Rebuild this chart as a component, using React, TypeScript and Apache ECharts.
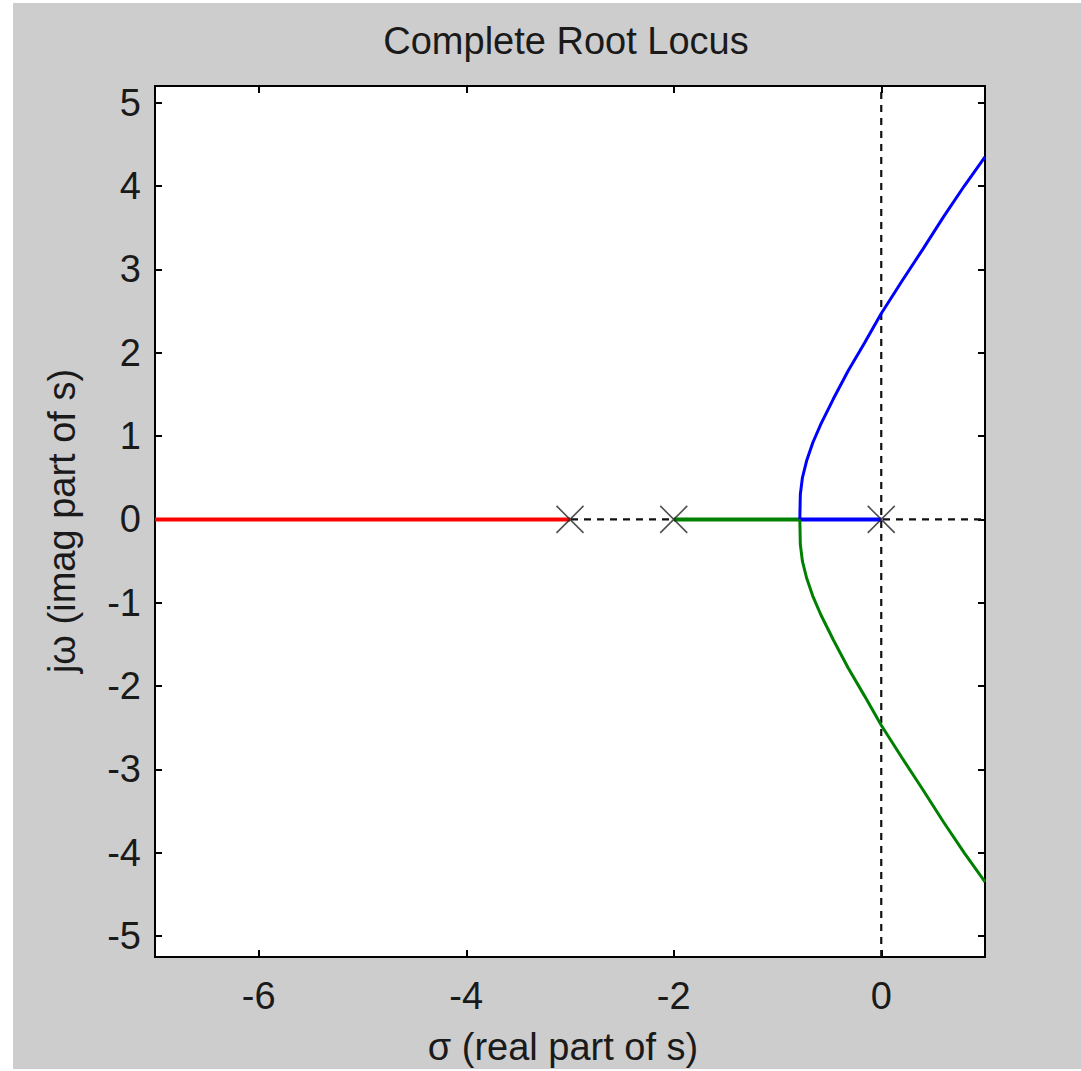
import React, { useEffect, useRef } from "react";
import * as echarts from "echarts";

// ---- data ----
const xTicks = [-6, -4, -2, 0];
const yTicks = [-5, -4, -3, -2, -1, 0, 1, 2, 3, 4, 5];
const xRange = [-7, 1];
const yRange = [-5.25, 5.2];

const poles = [[-3, 0], [-2, 0], [0, 0]];
const realAxisGuide = [[-7, 0], [1, 0]];
const imagAxisGuide = [[0, -5.25], [0, 5.2]];

const redBranch = [[-7, 0], [-3, 0]];
const greenReal = [[-2, 0], [-0.785, 0]];
const blueReal = [[-0.785, 0], [0, 0]];

const blueUpper = [
  [-0.785, 0], [-0.78, 0.3], [-0.76, 0.5], [-0.72, 0.7], [-0.66, 0.92],
  [-0.58, 1.15], [-0.46, 1.45], [-0.32, 1.78], [-0.16, 2.12], [0, 2.47],
  [0.2, 2.86], [0.4, 3.24], [0.6, 3.63], [0.8, 4.0], [1.0, 4.35],
];
const greenLower = [
  [-0.785, 0], [-0.78, -0.3], [-0.76, -0.5], [-0.72, -0.7], [-0.66, -0.92],
  [-0.58, -1.15], [-0.46, -1.45], [-0.32, -1.78], [-0.16, -2.12], [0, -2.47],
  [0.2, -2.86], [0.4, -3.24], [0.6, -3.63], [0.8, -4.0], [1.0, -4.35],
];

const titleText = "Complete Root Locus";
const xName = "σ (real part of s)";
const yName = "jω (imag part of s)";

const FONT = "'Liberation Sans', Arial, Helvetica, sans-serif";
const TXT = "#1a1a1a";

export default function App() {
  const ref = useRef<HTMLDivElement>(null);
  useEffect(() => {
    if (!ref.current) return;
    const chart = echarts.init(ref.current, null, { renderer: "svg" });
    const axisCommon = (type: "x" | "y", show: boolean) => ({
      type: "value",
      min: type === "x" ? xRange[0] : yRange[0],
      max: type === "x" ? xRange[1] : yRange[1],
      axisLine: { show: true, onZero: false, lineStyle: { color: "#000", width: 2 } },
      axisTick: {
        show: true,
        inside: true,
        length: 7,
        customValues: type === "x" ? xTicks : yTicks,
        lineStyle: { color: "#000", width: 2 },
      },
      axisLabel: {
        show,
        customValues: type === "x" ? xTicks : yTicks,
        margin: type === "x" ? 20 : 14,
        fontSize: 38,
        fontFamily: FONT,
        color: TXT,
      },
      splitLine: { show: false },
    });
    const line = (data: number[][], color: string, width: number, extra: any = {}) => ({
      type: "line",
      data,
      showSymbol: false,
      symbol: "none",
      lineStyle: { color, width, ...extra },
      itemStyle: { color },
      animation: false,
      silent: true,
    });
    chart.setOption({
      animation: false,
      backgroundColor: "#ffffff",
      grid: {
        left: 155,
        top: 86,
        right: 96,
        bottom: 114,
        show: true,
        backgroundColor: "#ffffff",
        borderColor: "#000",
        borderWidth: 2,
        outerBoundsMode: "none",
      },
      xAxis: [
        { ...axisCommon("x", true), position: "bottom" },
        { ...axisCommon("x", false), position: "top" },
      ],
      yAxis: [
        { ...axisCommon("y", true), position: "left" },
        { ...axisCommon("y", false), position: "right" },
      ],
      graphic: [
        {
          type: "rect",
          z: -100,
          silent: true,
          shape: { x: 13, y: 3, width: 1068, height: 1066 },
          style: { fill: "#cdcdcd" },
        },
        {
          type: "text",
          x: 566,
          y: 41,
          style: {
            text: titleText,
            font: `38px ${FONT}`,
            fill: TXT,
            textAlign: "center",
            textVerticalAlign: "middle",
          },
        },
        {
          type: "text",
          x: 563,
          y: 1047,
          style: {
            text: xName,
            font: `38px ${FONT}`,
            fill: TXT,
            textAlign: "center",
            textVerticalAlign: "middle",
          },
        },
        {
          type: "text",
          x: 62,
          y: 521,
          rotation: Math.PI / 2,
          style: {
            text: yName,
            font: `38px ${FONT}`,
            fill: TXT,
            textAlign: "center",
            textVerticalAlign: "middle",
          },
        },
      ],
      series: [
        line(realAxisGuide, "#111", 2.2, { type: [7, 6] }),
        line(imagAxisGuide, "#111", 2.2, { type: [7, 6] }),
        line(redBranch, "#ff0000", 4),
        line(greenReal, "#008000", 4),
        line(blueReal, "#0000ff", 4),
        line(blueUpper, "#0000ff", 3),
        line(greenLower, "#008000", 3),
        {
          type: "scatter",
          data: poles,
          symbol: "path://M0,0L10,10M10,0L0,10",
          symbolSize: 27,
          itemStyle: { color: "none", borderColor: "#222", borderWidth: 1.6 },
          z: 10,
          silent: true,
        },
      ],
    });
    return () => chart.dispose();
  }, []);
  return (
    <div
      ref={ref}
      style={{ position: "absolute", left: 0, top: 0, width: 1081, height: 1071 }}
    />
  );
}
